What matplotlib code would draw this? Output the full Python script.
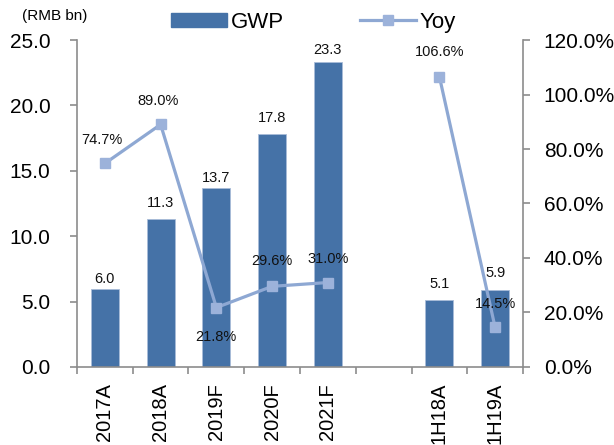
import matplotlib
matplotlib.use("Agg")
import matplotlib.pyplot as plt
import numpy as np
from matplotlib.ticker import FuncFormatter
from matplotlib.lines import Line2D
from matplotlib.patches import Patch

# Gross written premium (RMB bn) and year-on-year growth (%)
categories = ["2017A", "2018A", "2019F", "2020F", "2021F", "", "1H18A", "1H19A"]
gwp = [6.0, 11.3, 13.7, 17.8, 23.3, np.nan, 5.1, 5.9]
yoy = [74.7, 89.0, 21.8, 29.6, 31.0, np.nan, 106.6, 14.5]
gwp_ticks = [0, 5, 10, 15, 20, 25]
yoy_ticks = [0, 20, 40, 60, 80, 100, 120]
legend_labels = ["GWP", "Yoy"]
unit_label = "(RMB bn)"

plt.rcParams["font.family"] = ["Liberation Sans", "DejaVu Sans"]

BAR = "#4572A7"
LINE = "#8EA8D3"
MARK = "#9CB2DA"
AXIS = "#8C8C8C"

fig = plt.figure(figsize=(6.14, 4.45), dpi=100)
ax = fig.add_axes([0.1254, 0.1753, 0.7264, 0.7348])
ax2 = ax.twinx()

x = np.arange(len(categories))
gwp_arr = np.array(gwp, dtype=float)
has_bar = ~np.isnan(gwp_arr)
ax.bar(x[has_bar], gwp_arr[has_bar], width=0.5, color=BAR,
       edgecolor="#A9BCD9", linewidth=0.6, zorder=2)

# bar value labels (offsets in points above each bar top)
bar_offsets = [7, 12, 7, 12, 9, None, 12, 12]
for xi, v, off in zip(x, gwp, bar_offsets):
    if np.isnan(v):
        continue
    ax.annotate(f"{v:.1f}", (xi, v), xytext=(0, off), textcoords="offset points",
                ha="center", va="center", fontsize=10.5, color="#111111")

ax2.plot(x, yoy, color=LINE, lw=2.3, marker="s", markersize=7,
         markerfacecolor=MARK, markeredgecolor=MARK, zorder=3)

# growth labels: above the marker except the 2019F dip
yoy_offsets = [(-2, 17), (-2, 17), (0, -21), (0, 18), (0, 17), None, (0, 18), (0, 17)]
for xi, v, off in zip(x, yoy, yoy_offsets):
    if np.isnan(v):
        continue
    ax2.annotate(f"{v:.1f}%", (xi, v), xytext=off, textcoords="offset points",
                 ha="center", va="center", fontsize=10.5, color="#111111", zorder=4)

ax.set_xlim(-0.5, len(categories) - 0.5)
ax.set_ylim(0, 25)
ax2.set_ylim(0, 120)

ax.set_yticks(gwp_ticks)
ax.yaxis.set_major_formatter(FuncFormatter(lambda v, p: f"{v:.1f}"))
ax2.set_yticks(yoy_ticks)
ax2.yaxis.set_major_formatter(FuncFormatter(lambda v, p: f"{v:.1f}%"))

# category boundaries carry the tick marks, centres carry the labels
ax.set_xticks(np.arange(-0.5, len(categories), 1.0))
ax.set_xticklabels([])
ax.set_xticks(x, categories, minor=True)
ax.tick_params(axis="x", which="major", direction="out", length=5, width=1.2, color=AXIS)
ax.tick_params(axis="x", which="minor", length=0, pad=11.5, labelsize=14.5,
               labelrotation=90)

ax.tick_params(axis="y", direction="out", length=5, width=1.2, color=AXIS,
               pad=14, labelsize=15)
ax2.tick_params(axis="y", direction="out", length=5, width=1.2, color=AXIS,
                pad=10, labelsize=15)

for a in (ax, ax2):
    a.spines["top"].set_visible(False)
    for s in a.spines.values():
        s.set_color(AXIS)
        s.set_linewidth(1.2)
ax.spines["right"].set_visible(False)
ax2.spines["left"].set_visible(False)
ax2.spines["bottom"].set_visible(False)

handles = [Patch(facecolor=BAR, edgecolor=BAR),
           Line2D([0], [0], color=LINE, lw=2.3, marker="s", markersize=7,
                  markerfacecolor=MARK, markeredgecolor=MARK)]
fig.legend(handles, legend_labels, loc="center", bbox_to_anchor=(0.511, 0.95),
           ncol=2, frameon=False, fontsize=16, handlelength=2.5, handleheight=0.55,
           handletextpad=0.2, columnspacing=3.4)

fig.text(22 / 614, 1 - 16 / 445, unit_label, fontsize=11, ha="left", va="center")

fig.savefig("out.png", dpi=100)
